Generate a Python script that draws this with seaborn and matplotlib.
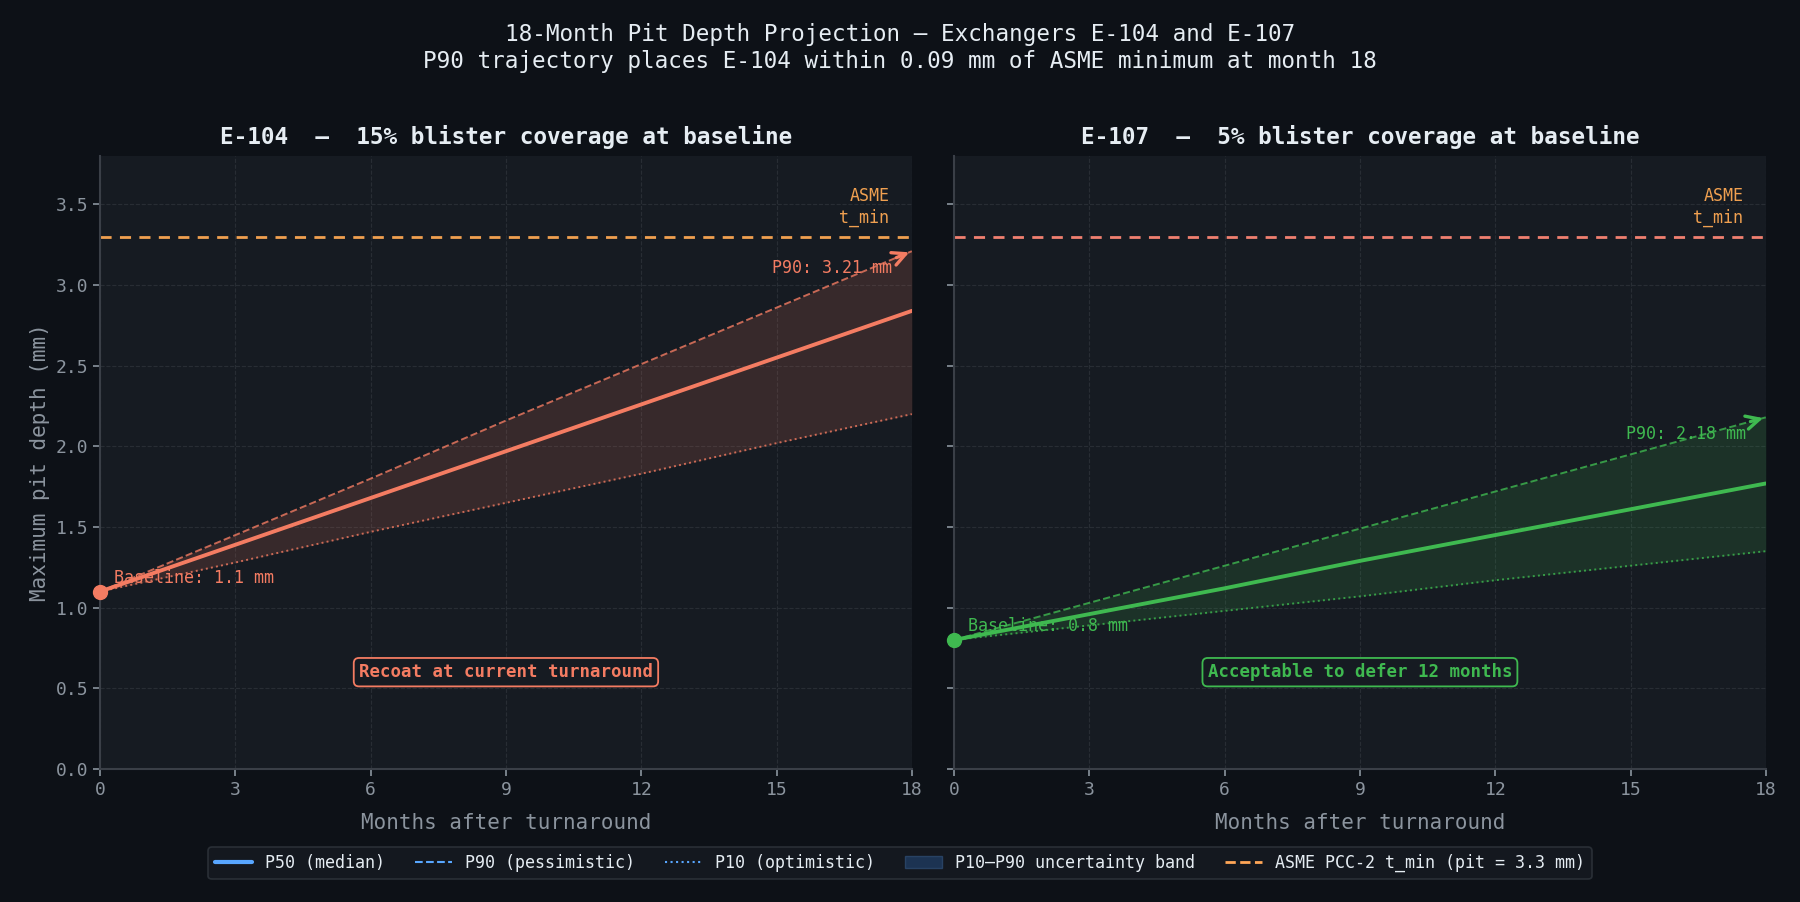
import matplotlib
matplotlib.use('Agg')
import matplotlib.pyplot as plt
from matplotlib.lines import Line2D
from matplotlib.patches import Patch
import pandas as pd
import seaborn as sns

# Meses e projeções
months = [0, 3, 6, 9, 12, 15, 18]

e104_p50 = [1.10, 1.39, 1.68, 1.97, 2.26, 2.55, 2.84]
e104_p90 = [1.10, 1.45, 1.80, 2.16, 2.51, 2.86, 3.21]
e104_p10 = [1.10, 1.28, 1.47, 1.65, 1.83, 2.02, 2.20]

e107_p50 = [0.80, 0.96, 1.12, 1.29, 1.45, 1.61, 1.77]
e107_p90 = [0.80, 1.03, 1.26, 1.49, 1.72, 1.95, 2.18]
e107_p10 = [0.80, 0.89, 0.98, 1.07, 1.17, 1.26, 1.35]

t_min = 3.3

titles = ['E-104  \u2013  15% blister coverage at baseline',
          'E-107  \u2013  5% blister coverage at baseline']
verdicts = ['Recoat at current turnaround', 'Acceptable to defer 12 months']
baseline_labels = ['Baseline: 1.1 mm', 'Baseline: 0.8 mm']
p90_labels = ['P90: 3.21 mm', 'P90: 2.18 mm']

BG = '#0d1117'
AX_BG = '#161b22'
GRID = '#30363d'
TXT = '#e6edf3'
MUTED = '#8b949e'
CORAL = '#f47c62'
GREEN = '#3fb950'
ORANGE = '#f0a050'
BLUE = '#58a6ff'

sns.set_theme(style='dark')
plt.rcParams['font.family'] = ['DejaVu Sans Mono']
plt.rcParams.update({
    'figure.facecolor': BG,
    'axes.facecolor': AX_BG,
    'axes.edgecolor': GRID,
    'text.color': TXT,
    'xtick.color': MUTED,
    'ytick.color': MUTED,
    'axes.labelcolor': MUTED,
})


def draw_panel(ax, p50, p10, p90, color, asme_color, title, verdict, base_lbl, p90_lbl, show_ylabel):
    df = pd.DataFrame({'month': months, 'p50': p50, 'p10': p10, 'p90': p90})

    ax.fill_between(df['month'], df['p10'], df['p90'], color=color, alpha=0.15, linewidth=0)
    sns.lineplot(data=df, x='month', y='p50', ax=ax, color=color, linewidth=2.8)
    sns.lineplot(data=df, x='month', y='p90', ax=ax, color=color, linewidth=1.4,
                 linestyle='--', alpha=0.8)
    sns.lineplot(data=df, x='month', y='p10', ax=ax, color=color, linewidth=1.4,
                 linestyle=':', alpha=0.8)

    # Ponto de partida
    ax.plot(df['month'].iloc[0], df['p50'].iloc[0], 'o', color=color, markersize=10, clip_on=False, zorder=5)
    ax.text(0.3, df['p50'].iloc[0] + 0.03, base_lbl, color=color, fontsize=12, va='bottom')

    # Seta no final do P90
    slope = (df['p90'].iloc[-1] - df['p90'].iloc[-2]) / 3
    ax.annotate('', xy=(18, df['p90'].iloc[-1]), xytext=(17.6, df['p90'].iloc[-1] - slope * 0.4),
                arrowprops=dict(arrowstyle='->', color=color, lw=2.4, mutation_scale=24), annotation_clip=False)
    ax.text(17.55, df['p90'].iloc[-1] - 0.05, p90_lbl, color=color, fontsize=12, ha='right', va='top')

    # Limite ASME
    ax.axhline(t_min, color=asme_color, linestyle='--', linewidth=2, dashes=(4, 3))
    ax.text(17.5, t_min + 0.06, 'ASME\nt_min', color=ORANGE, fontsize=12, ha='right', va='bottom',
            linespacing=1.25)

    ax.text(9, 0.6, verdict, color=color, fontsize=12.5, fontweight='bold', ha='center', va='center',
            bbox=dict(boxstyle='round,pad=0.3', facecolor=AX_BG, edgecolor=color, linewidth=1.3))

    ax.set_xlim(0, 18)
    ax.set_ylim(0, 3.8)
    ax.set_xticks(months)
    ax.set_yticks([0, 0.5, 1.0, 1.5, 2.0, 2.5, 3.0, 3.5])
    ax.tick_params(axis='both', labelsize=13, length=5, width=1.2, bottom=True, left=True, colors=MUTED)
    ax.grid(True, linestyle='--', color=GRID, linewidth=0.8, alpha=0.7)
    for side in ['top', 'right']:
        ax.spines[side].set_visible(False)
    for side in ['left', 'bottom']:
        ax.spines[side].set_color('#3a3f47')
        ax.spines[side].set_linewidth(1.5)

    ax.set_title(title, color=TXT, fontsize=16.3, fontweight='bold', pad=9)
    ax.set_xlabel('Months after turnaround', fontsize=15, color=MUTED, labelpad=10)
    if show_ylabel:
        ax.set_ylabel('Maximum pit depth (mm)', fontsize=15, color=MUTED)
    else:
        ax.set_ylabel('')


fig, axes = plt.subplots(1, 2, figsize=(18, 9.02), dpi=100, sharey=True)
fig.subplots_adjust(left=0.0556, right=0.981, top=0.827, bottom=0.1475, wspace=0.052)

draw_panel(axes[0], e104_p50, e104_p10, e104_p90, CORAL, ORANGE, titles[0], verdicts[0],
           baseline_labels[0], p90_labels[0], True)
draw_panel(axes[1], e107_p50, e107_p10, e107_p90, GREEN, '#f08070', titles[1], verdicts[1],
           baseline_labels[1], p90_labels[1], False)
axes[1].tick_params(labelleft=False)

fig.suptitle('18-Month Pit Depth Projection \u2013 Exchangers E-104 and E-107\n'
             'P90 trajectory places E-104 within 0.09 mm of ASME minimum at month 18',
             color=TXT, fontsize=16.3, y=0.975, va='top', linespacing=1.25)

handles = [
    Line2D([0], [0], color=BLUE, linewidth=3, label='P50 (median)'),
    Line2D([0], [0], color=BLUE, linewidth=1.5, linestyle='--', label='P90 (pessimistic)'),
    Line2D([0], [0], color=BLUE, linewidth=1.5, linestyle=':', label='P10 (optimistic)'),
    Patch(facecolor='#1f3a5f', edgecolor='#2d4a6e', alpha=0.8, label='P10\u2013P90 uncertainty band'),
    Line2D([0], [0], color='#ffa657', linewidth=2, linestyle='--', label='ASME PCC-2 t_min (pit = 3.3 mm)'),
]
leg = fig.legend(handles=handles, loc='center', bbox_to_anchor=(0.5, 0.043), ncol=5, fontsize=12,
                 frameon=True, facecolor=AX_BG, edgecolor=GRID, labelcolor=TXT, handlelength=2.2,
                 columnspacing=1.8)
leg.get_frame().set_linewidth(1.2)

fig.savefig('out.png', dpi=100, facecolor=BG)
